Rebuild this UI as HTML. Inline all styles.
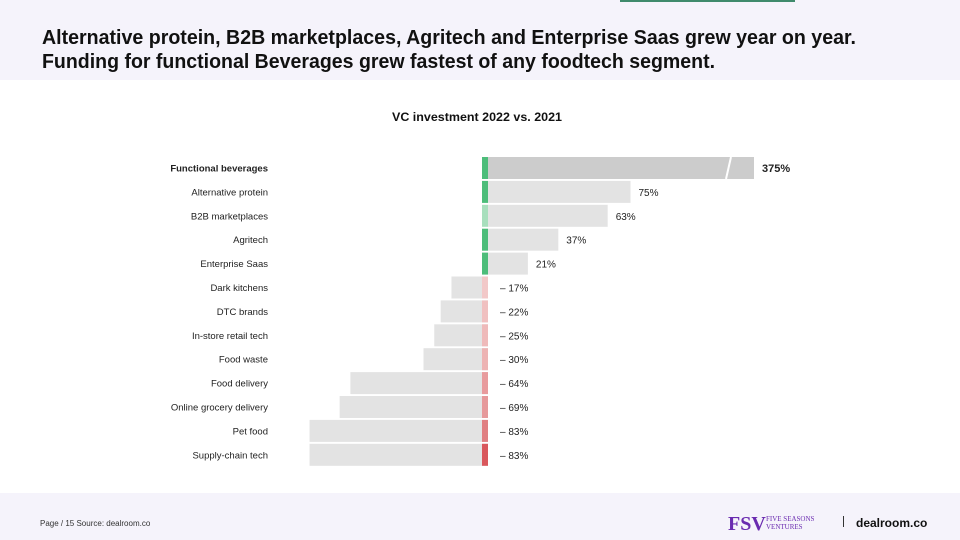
<!DOCTYPE html>
<html><head><meta charset="utf-8"><style>
html,body{margin:0;padding:0;background:#fff;}
svg{display:block;font-family:"Liberation Sans",sans-serif;}
</style></head><body>
<svg id="chart" width="960" height="540" viewBox="0 0 960 540">
<rect x="0" y="0" width="960" height="80" fill="#f5f3fb"/>
<rect x="620" y="0" width="175" height="2" fill="#3f8a6c"/>
<text x="42" y="44" font-size="20" font-weight="bold" fill="#111" textLength="814" lengthAdjust="spacingAndGlyphs">Alternative protein, B2B marketplaces, Agritech and Enterprise Saas grew year on year.</text>
<text x="42" y="68" font-size="20" font-weight="bold" fill="#111" textLength="673" lengthAdjust="spacingAndGlyphs">Funding for functional Beverages grew fastest of any foodtech segment.</text>
<text x="477" y="121" font-size="12" font-weight="bold" fill="#111" text-anchor="middle" textLength="170" lengthAdjust="spacingAndGlyphs">VC investment 2022 vs. 2021</text>
<g id="bars"></g>
<rect x="0" y="493" width="960" height="47" fill="#f5f3fb"/>
<text x="40" y="526" font-size="8" fill="#333">Page / 15  Source: dealroom.co</text>
<text x="728" y="530" font-size="20" font-family="Liberation Serif,serif" fill="#6a2bb0" font-weight="bold">FSV</text>
<text x="766" y="521" font-size="7" font-family="Liberation Serif,serif" fill="#6a2bb0">FIVE SEASONS</text>
<text x="766" y="529" font-size="7" font-family="Liberation Serif,serif" fill="#6a2bb0">VENTURES</text>
<rect x="843" y="516" width="1" height="11" fill="#333"/>
<text x="856" y="527" font-size="12" font-weight="bold" fill="#111">dealroom.co</text>
</svg>
<script>
const categories = ["Functional beverages","Alternative protein","B2B marketplaces","Agritech","Enterprise Saas","Dark kitchens","DTC brands","In-store retail tech","Food waste","Food delivery","Online grocery delivery","Pet food","Supply-chain tech"];
const values = [375,75,63,37,21,-17,-22,-25,-30,-64,-69,-83,-83];
const valueLabels = ["375%","75%","63%","37%","21%","\u2013 17%","\u2013 22%","\u2013 25%","\u2013 30%","\u2013 64%","\u2013 69%","\u2013 83%","\u2013 83%"];
const markerColors = ["#4dbd7a","#4dbd7a","#a8dfbd","#4dbd7a","#4dbd7a","#f2c8c8","#f0c0c0","#efbaba","#edb3b3","#e89b9d","#e6999b","#e07f82","#d9575c"];

const NS="http://www.w3.org/2000/svg";
const g=document.getElementById('bars');
const zeroX=488, capVal=140, rowTop=157, rowStep=23.9, barH=22;
function xScale(v){ const c=Math.min(v,capVal); return v>=0 ? zeroX + c*1.9 : zeroX + c*2.15; }
function mk(tag,attrs){const e=document.createElementNS(NS,tag);for(const k in attrs)e.setAttribute(k,attrs[k]);g.appendChild(e);return e;}
categories.forEach((cat,i)=>{
  const y=rowTop+i*rowStep, cy=y+barH/2;
  const v=values[i], x1=xScale(v);
  const bx=Math.min(zeroX,x1), bw=Math.abs(x1-zeroX);
  const bar=mk('rect',{x:bx,y:y,width:bw,height:barH,fill:i===0?'#cccccc':'#e3e3e3'});
  
  
  if(v>capVal){
    const bk=mk('path',{d:`M${x1-28},${y+barH} L${x1-23},${y}`,stroke:'#fff','stroke-width':2});
    
    
  }
  const m=mk('rect',{x:zeroX-6,y:y,width:6,height:barH,fill:markerColors[i]});
  
  
  const lab=mk('text',{x:268,y:cy+3.5,'font-size':9.5,'text-anchor':'end',fill:'#222','font-weight':i===0?'bold':'normal'});
  lab.textContent=cat;
  
  
  const vx = v>=0 ? x1+8 : zeroX+12;
  const vl=mk('text',{x:vx,y:cy+4,'font-size':i===0?11:10,fill:'#222','font-weight':i===0?'bold':'normal'});
  vl.textContent=valueLabels[i];
  
  
});
</script>
</body></html>
